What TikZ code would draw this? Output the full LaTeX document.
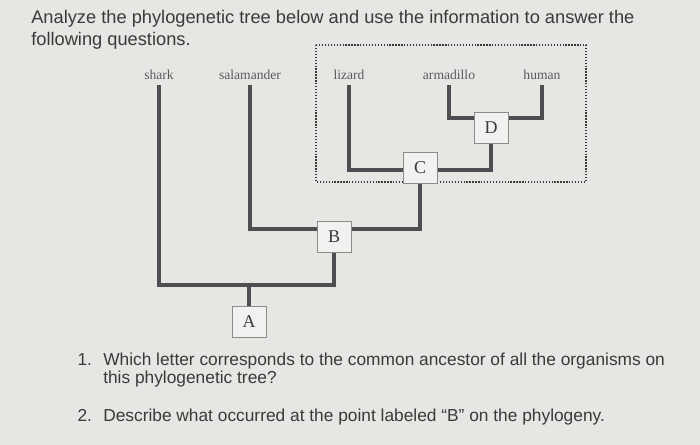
\documentclass[tikz,border=0pt]{standalone}
\usepackage{fontspec}
\setmainfont{Liberation Serif}
\setsansfont{Liberation Sans}
\usetikzlibrary{positioning,backgrounds}
\definecolor{phypaper}{RGB}{230,230,227}
\definecolor{phyink}{RGB}{58,58,60}
\definecolor{phybranch}{RGB}{78,78,82}
\definecolor{phylabel}{RGB}{90,90,92}
\definecolor{phybox}{RGB}{241,241,239}
\definecolor{phyedge}{RGB}{140,140,140}

\begin{document}
\begin{tikzpicture}[x=0.75pt,y=-0.75pt,
  every node/.style={inner sep=0pt},
  prompt/.style={font=\sffamily\fontsize{13.7}{16.5}\selectfont,text=phyink,align=left},
  query/.style={font=\sffamily\fontsize{13}{13.9}\selectfont,text=phyink,align=left},
  qnum/.style={query,yshift=-0.8pt},
  taxon/.style={font=\rmfamily\fontsize{10.2}{12}\selectfont,text=phylabel,anchor=base,inner sep=1pt},
  clade/.style={draw=phyedge,fill=phybox,line width=0.6pt,minimum width=25.5pt,minimum height=23.3pt,font=\rmfamily\fontsize{13.5}{15}\selectfont,text=phyink},
  branch/.style={line width=3pt,phybranch,shorten <=2.5pt},
  frame/.style={phyink,line width=1pt,dash pattern=on 1pt off 1.2pt}]

\node[prompt,anchor=north west] (title) at (31,10)
  {Analyze the phylogenetic tree below and use the information to answer the\\following questions.};

% taxa along the top
\node[taxon] (shark) at (159,80) {shark};
\node[taxon] (salamander) at (250,80) {salamander};
\node[taxon] (lizard) at (349,80) {lizard};
\node[taxon] (armadillo) at (449,80) {armadillo};
\node[taxon] (human) at (542,80) {human};

% branch points
\node[clade] (A) at (249,322) {A};
\node[clade] (B) at (334,237) {B};
\node[clade] (C) at (420,168) {C};
\node[clade] (D) at (491,128) {D};
\coordinate (rootA) at (249,285);
\coordinate (splitB) at (334,229);
\coordinate (splitC) at (420,170);
\coordinate (splitD) at (491,118);

\begin{scope}[on background layer]
\fill[phypaper] (0,0) rectangle (700,445);
\draw[frame] (316,45) rectangle (586,182);
\draw[branch] (shark.south) |- (rootA) -| (B);
\draw[branch,shorten <=0pt] (A) -- (rootA);
\draw[branch] (salamander.south) |- (splitB) -| (C);
\draw[branch] (lizard.south) |- (splitC) -| (D);
\draw[branch,shorten >=2.5pt] (armadillo.south) |- (splitD) -| (human.south);
\end{scope}

% questions
\node[query,anchor=north west] (q1) at (103,352.5)
  {Which letter corresponds to the common ancestor of all the organisms on\\this phylogenetic tree?};
\node[qnum,left=8pt of q1.north west,anchor=north east] (n1) {1.};
\node[query,below=15.4pt of q1.south west,anchor=north west] (q2)
  {Describe what occurred at the point labeled “B” on the phylogeny.};
\node[qnum,left=8pt of q2.north west,anchor=north east] (n2) {2.};
\end{tikzpicture}
\end{document}
